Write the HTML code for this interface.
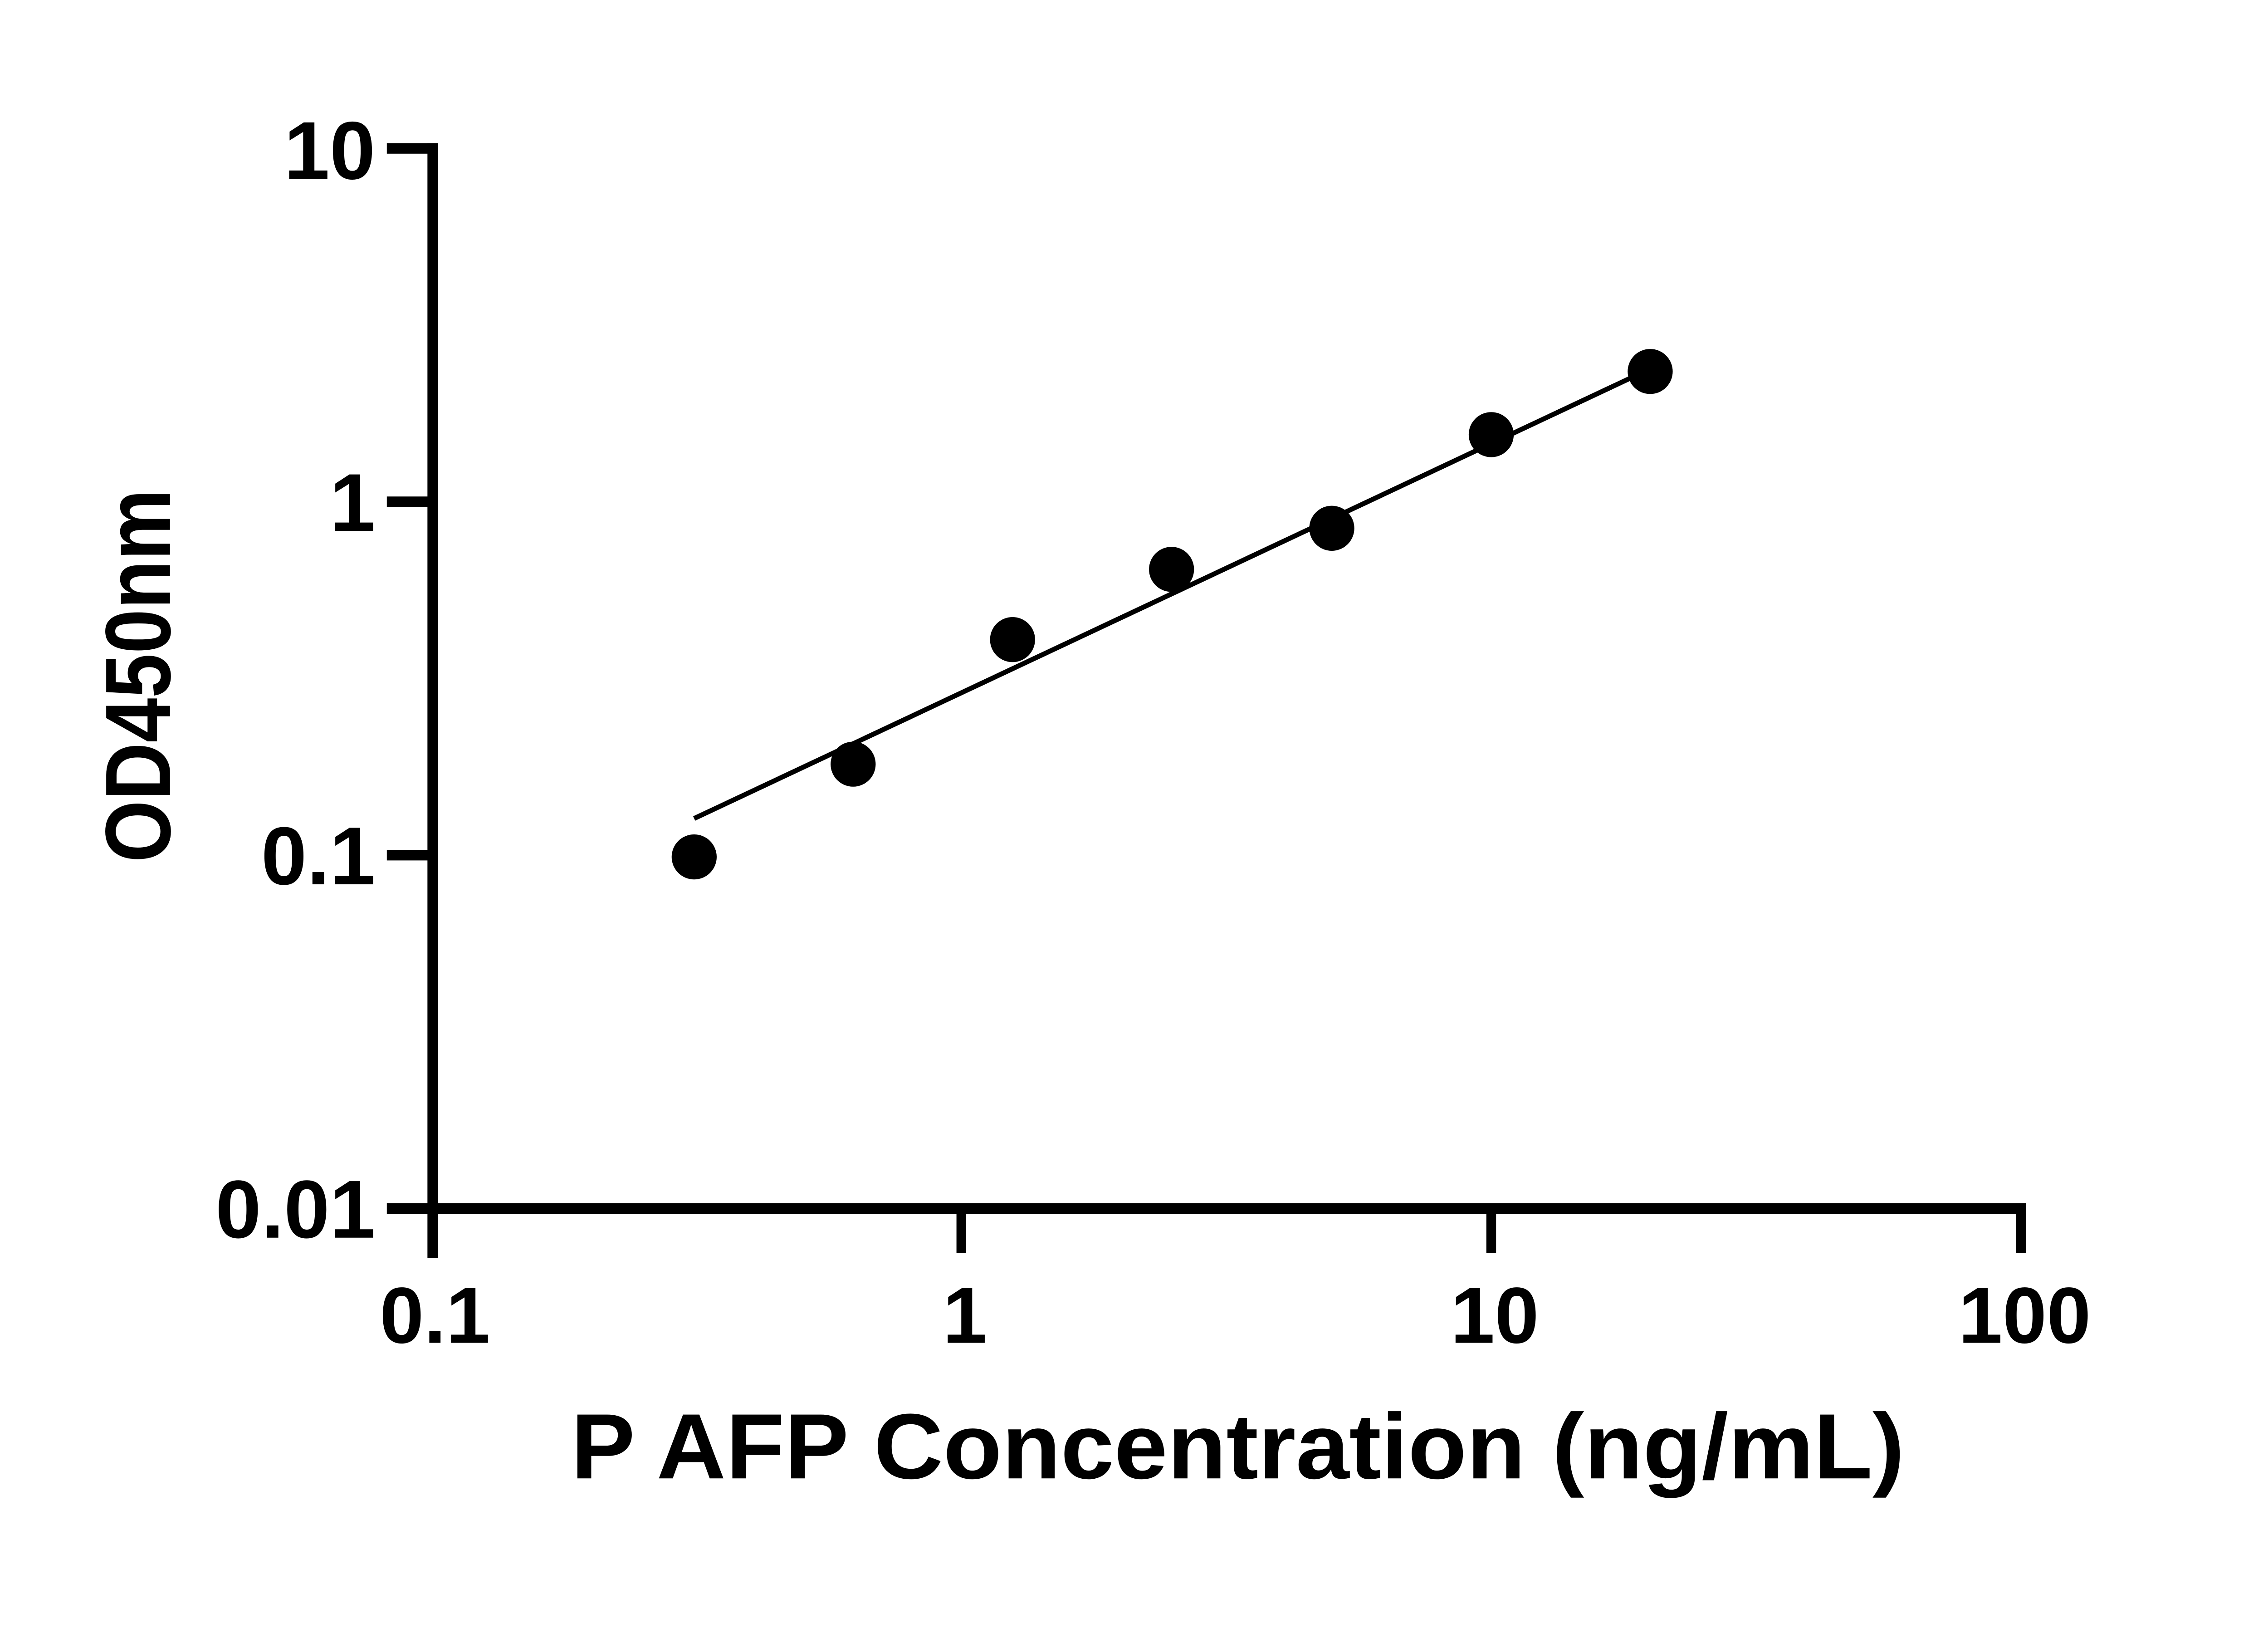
<!DOCTYPE html>
<html><head><meta charset="utf-8"><style>
html,body{margin:0;padding:0;background:#fff;}
svg{display:block;}
text{font-family:"Liberation Sans",Arial,sans-serif;font-weight:bold;fill:#000;}
</style></head><body>
<svg width="5130" height="3588" viewBox="0 0 5130 3588" xmlns="http://www.w3.org/2000/svg">
<rect width="5130" height="3588" fill="#fff"/>
<g transform="scale(0.9735)">
<g stroke="#000" stroke-linecap="butt" fill="none">
<line x1="980" y1="324" x2="980" y2="2848" stroke-width="24"/>
<line x1="876" y1="336" x2="992" y2="336" stroke-width="24"/>
<line x1="876" y1="1136" x2="980" y2="1136" stroke-width="24"/>
<line x1="876" y1="1936" x2="980" y2="1936" stroke-width="24"/>
<line x1="876" y1="2736" x2="4588" y2="2736" stroke-width="24"/>
<line x1="2177" y1="2736" x2="2177" y2="2837" stroke-width="22"/>
<line x1="3377" y1="2736" x2="3377" y2="2837" stroke-width="22"/>
<line x1="4577" y1="2724" x2="4577" y2="2837" stroke-width="22"/>
<line x1="1572" y1="1853" x2="3705" y2="850" stroke-width="11"/>
</g>
<g fill="#000">
<circle cx="1572" cy="1940" r="51"/>
<circle cx="1932" cy="1730" r="51"/>
<circle cx="2293" cy="1448" r="51"/>
<circle cx="2653" cy="1289" r="51"/>
<circle cx="3016" cy="1196" r="51"/>
<circle cx="3377" cy="984" r="51"/>
<circle cx="3737" cy="841" r="51"/>
</g>
<g font-size="186" text-anchor="end">
<text x="850" y="405">10</text>
<text x="850" y="1202">1</text>
<text x="850" y="2002">0.1</text>
<text x="850" y="2802">0.01</text>
</g>
<g font-size="180" text-anchor="middle">
<text x="985" y="3040">0.1</text>
<text x="2185" y="3040">1</text>
<text x="3385" y="3040">10</text>
<text x="4585" y="3040">100</text>
</g>
<text x="2803" y="3347" font-size="210" text-anchor="middle" textLength="3020" lengthAdjust="spacingAndGlyphs">P AFP Concentration (ng/mL)</text>
<text transform="translate(385,1530) rotate(-90)" x="0" y="0" font-size="210" text-anchor="middle" textLength="845" lengthAdjust="spacingAndGlyphs">OD450nm</text>
</g>
</svg>
</body></html>
